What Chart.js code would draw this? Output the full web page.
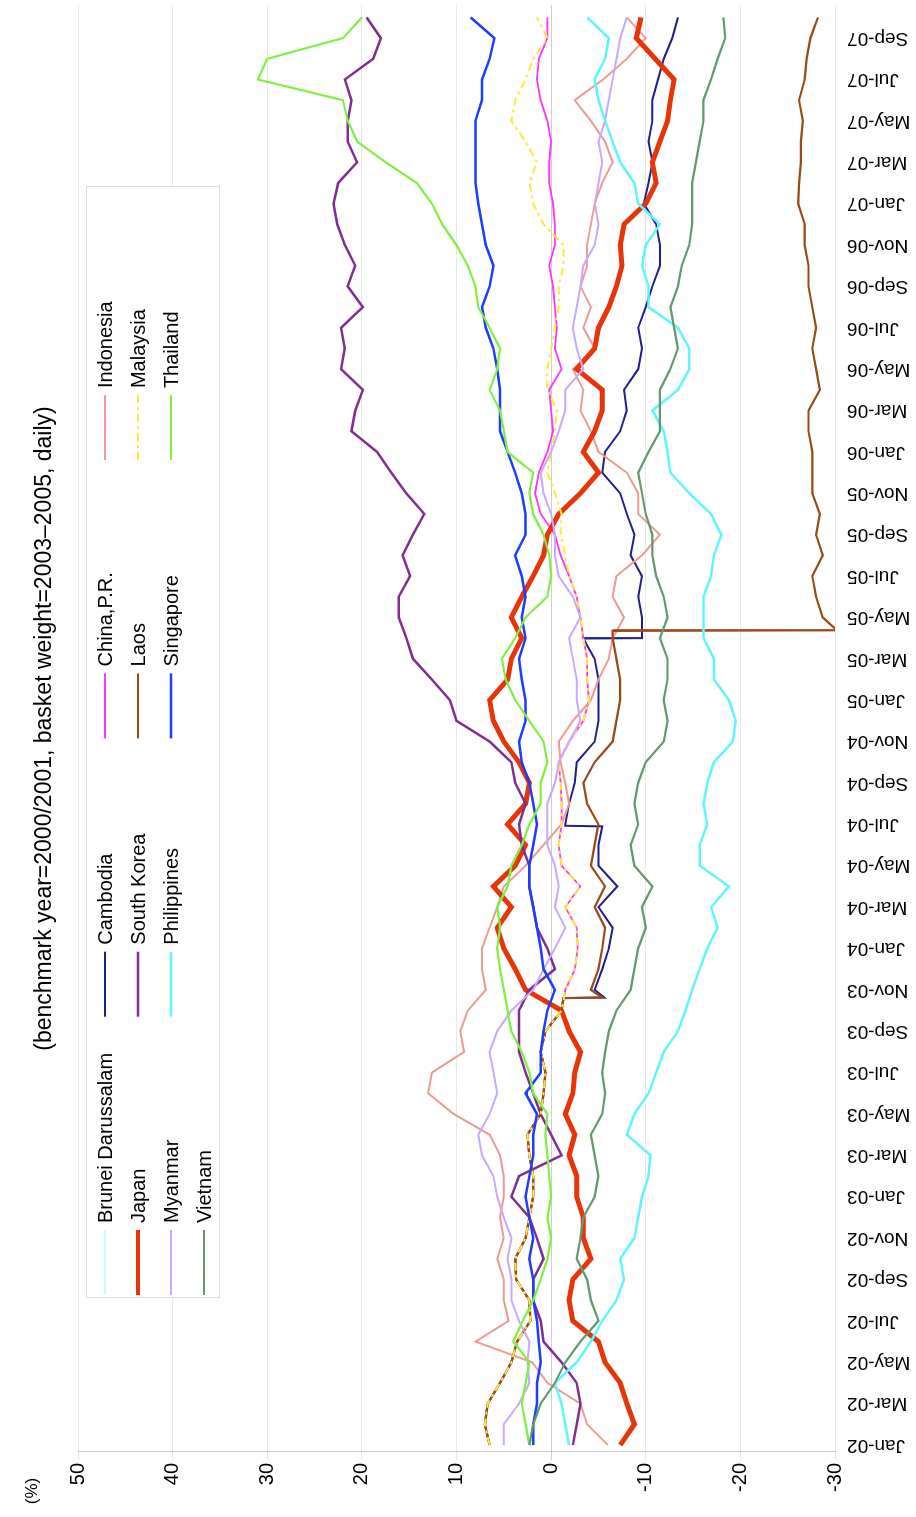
<!DOCTYPE html>
<html>
<head>
<meta charset="utf-8">
<script src="https://cdn.jsdelivr.net/npm/chart.js@4.4.0/dist/chart.umd.min.js"></script>
<style>
  html, body { margin: 0; padding: 0; background: #fff; overflow: hidden; }
  #wrap {
    position: absolute; left: 0; top: 0;
    width: 1517px; height: 916px;
    transform-origin: 0 0;
    transform: translateY(1517px) rotate(-90deg);
  }
  canvas { display: block; }
</style>
</head>
<body>
<div id="wrap"><canvas id="chart" width="1517" height="916"></canvas></div>
<script>
// month index: 0 = Jan-02 ... 69 = Oct-07
const months = Array.from({ length: 70 }, (_, i) => i);
const tickMonths = Array.from({ length: 35 }, (_, i) => i * 2);
const tickLabels = [
  "Jan-02", "Mar-02", "May-02", "Jul-02", "Sep-02", "Nov-02",
  "Jan-03", "Mar-03", "May-03", "Jul-03", "Sep-03", "Nov-03",
  "Jan-04", "Mar-04", "May-04", "Jul-04", "Sep-04", "Nov-04",
  "Jan-05", "Mar-05", "May-05", "Jul-05", "Sep-05", "Nov-05",
  "Jan-06", "Mar-06", "May-06", "Jul-06", "Sep-06", "Nov-06",
  "Jan-07", "Mar-07", "May-07", "Jul-07", "Sep-07"
];

const seriesNames = [
  "Brunei Darussalam", "Cambodia", "China,P.R.", "Indonesia",
  "Japan", "South Korea", "Laos", "Malaysia",
  "Myanmar", "Philippines", "Singapore", "Thailand", "Vietnam"
];

// monthly readings (%)
const bruneiValues = [1.9, 1.9, 1.5, 1.5, 1.1, 1.3, 1.5, 1.9, 1.9, 2.3, 1.9, 2.3, 2.7, 2.3, 1.9, 1.9, 1.5, 2.7, 1.1, 1.1,
  0.8, 0.4, -0.4, 0.8, 1.1, 1.5, 1.9, 2.3, 2.3, 1.9, 1.5, 1.9, 2.3, 3.1, 3.4, 2.7, 2.7, 3.1, 3.4, 2.7,
  3.1, 2.7, 3.1, 3.8, 2.7, 2.7, 3.1, 3.8, 4.6, 5.4, 5.4, 5.4, 5.7, 6.1, 6.9, 7.3, 6.5, 6.1, 6.9, 7.3,
  7.7, 8.0, 8.0, 8.0, 8.0, 7.3, 7.3, 6.5, 6.0, 8.5];
const cambodiaValues = [6.5, 7.0, 6.7, 5.4, 4.2, 3.6, 2.2, 2.3, 3.7, 3.8, 2.7, 2.3, 1.9, 1.9, 2.3, 2.5, 1.1, 0.8, 0.6, 1.1,
  0.6, -1.1, -4.6, -5.4, -6.1, -6.5, -5.0, -7.0, -5.0, -5.0, -1.5, -1.9, -2.5, -2.7, -4.6, -5.0, -5.0, -5.0, -4.6, -9.6,
  -9.6, -9.2, -9.6, -8.4, -8.8, -8.0, -7.3, -5.4, -5.7, -7.3, -8.0, -7.7, -9.2, -9.6, -9.2, -10.0, -10.7, -11.5, -11.5, -11.1,
  -9.8, -10.3, -10.7, -10.3, -10.7, -10.7, -11.3, -11.9, -12.8, -13.4];
const chinaValues = [6.5, 7.0, 6.7, 5.4, 4.2, 3.6, 2.2, 2.3, 3.7, 3.8, 2.7, 2.3, 1.9, 1.9, 2.3, 2.5, 1.1, 0.8, 0.6, 1.1,
  0.6, -1.1, -1.5, -2.5, -2.8, -2.7, -1.5, -3.1, -1.1, -0.8, -1.1, -1.1, -1.0, -0.8, -1.9, -3.4, -4.0, -3.8, -3.8, -3.4,
  -3.1, -2.7, -1.9, -1.0, -0.4, 1.1, 1.7, 1.3, 0.4, -0.2, 0, 0.2, -1.1, -0.4, -0.6, -0.4, -0.2, 0.2, -0.4, -0.4,
  -0.2, 0.2, 0.2, 0, 0.4, 1.1, 1.5, 1.3, 0.4, 0.4];
const indonesiaValues = [-6.0, -3.8, -3.1, 0.4, 2.0, 8.0, 4.5, 5.0, 5.0, 5.7, 5.0, 5.4, 5.0, 5.0, 5.4, 6.5, 10.3, 13.0, 12.6, 9.2,
  9.6, 8.8, 6.9, 7.3, 7.3, 6.5, 5.7, 5.0, 2.7, 0.8, -1.1, -1.9, -1.5, -1.0, -0.8, -2.3, -4.2, -5.0, -6.1, -6.5,
  -7.7, -6.5, -6.9, -9.6, -11.5, -9.2, -9.2, -8.0, -5.0, -4.2, -3.1, -3.4, -2.3, -4.6, -3.4, -4.2, -3.1, -3.8, -3.8, -4.2,
  -4.6, -5.4, -6.5, -5.7, -4.2, -2.5, -5.5, -8.0, -10.0, -8.0];
const japanValues = [-7.3, -8.8, -8.0, -7.3, -5.7, -5.0, -2.3, -1.9, -2.3, -4.2, -3.4, -3.4, -2.7, -2.7, -1.9, -2.5, -1.5, -2.3, -2.5, -3.1,
  -1.9, -1.1, 2.7, 3.8, 5.0, 5.7, 4.2, 6.1, 3.8, 2.7, 4.6, 2.7, 2.3, 3.4, 5.0, 6.1, 6.5, 4.6, 4.2, 3.1,
  4.2, 3.1, 1.9, 0.8, 0.4, -0.8, -3.1, -5.0, -3.4, -4.6, -5.4, -5.4, -2.7, -4.6, -5.0, -6.1, -6.9, -7.5, -7.3, -7.7,
  -10.0, -11.1, -10.7, -11.5, -12.3, -12.6, -13.0, -11.0, -9.0, -9.5];
const koreaValues = [-2.3, -2.7, -3.1, -2.7, -1.1, 0.8, 1.1, 1.9, 1.9, 0.8, 1.5, 2.3, 4.2, 3.4, -1.1, 0, 1.1, 1.9, 2.7, 3.4,
  3.4, 3.4, 2.3, -0.4, 0.4, 1.5, 1.9, 2.3, 2.3, 3.1, 3.4, 2.7, 3.8, 4.2, 6.5, 10.0, 10.7, 12.6, 14.6, 15.3,
  16.1, 16.1, 14.9, 15.7, 14.6, 13.4, 15.3, 16.9, 18.4, 21.1, 20.7, 19.9, 22.2, 21.8, 22.2, 19.9, 21.5, 20.7, 21.8, 22.6,
  23.0, 22.5, 20.5, 21.5, 21.5, 21.1, 21.8, 18.8, 18.0, 19.5];
const laosValues = [6.5, 7.0, 6.7, 5.4, 4.2, 3.6, 2.2, 2.3, 3.7, 3.8, 2.7, 2.3, 1.9, 1.9, 2.3, 2.5, 1.1, 0.8, 0.6, 1.1,
  0.6, -1.1, -4.2, -5.0, -5.4, -5.7, -4.6, -5.7, -4.2, -4.6, -5.0, -3.8, -3.4, -4.6, -6.5, -6.9, -7.3, -7.3, -6.9, -6.5,
  -28.7, -28.0, -27.6, -28.7, -28.0, -28.4, -27.6, -27.6, -27.6, -27.2, -27.2, -28.4, -28.0, -27.6, -28.0, -27.6, -27.2, -27.2, -26.8, -26.8,
  -26.1, -26.2, -26.4, -26.4, -26.6, -26.2, -26.8, -27.0, -27.4, -28.2];
const malaysiaValues = [6.5, 7.0, 6.7, 5.4, 4.2, 3.6, 2.2, 2.3, 3.7, 3.8, 2.7, 2.3, 1.9, 1.9, 2.3, 2.5, 1.1, 0.8, 0.6, 1.1,
  0.6, -1.1, -1.5, -2.5, -2.8, -2.7, -1.5, -3.1, -1.1, -0.8, -1.1, -1.1, -1.0, -0.8, -1.9, -3.4, -4.0, -3.8, -3.8, -3.4,
  -3.1, -2.7, -1.9, -1.5, -1.0, -1.1, -0.4, 0.4, 0, -0.4, -0.6, 0.4, 0.4, 0, -0.4, -0.8, -0.8, -1.3, -1.3, 0.8,
  1.9, 2.3, 1.5, 2.7, 4.2, 3.8, 2.7, 1.9, 0.4, 1.5];
const myanmarValues = [5.0, 5.0, 3.4, 2.3, 2.5, 2.3, 3.4, 4.2, 4.2, 4.6, 4.2, 5.0, 5.7, 6.1, 7.3, 7.7, 6.5, 5.7, 6.1, 6.5,
  5.7, 4.2, 1.9, 0.8, -0.4, -1.5, -0.4, -0.8, -0.4, 0.4, 0.4, 0.4, -0.4, -0.8, -1.9, -3.1, -2.7, -2.7, -2.3, -1.9,
  -3.1, -2.3, -0.8, -0.4, -0.4, 0, 0.8, 1.1, 0, -0.8, -1.5, -1.5, -3.4, -2.7, -2.3, -2.7, -3.1, -3.4, -4.6, -5.0,
  -4.6, -5.0, -5.4, -5.0, -5.7, -6.1, -6.5, -6.9, -7.3, -8.0];
const philippinesValues = [-1.9, -1.5, -1.1, -0.4, -2.7, -4.2, -5.4, -6.9, -7.7, -7.3, -8.8, -9.2, -9.6, -10.3, -10.5, -8.0, -8.8, -10.3, -11.1, -11.9,
  -13.4, -14.2, -14.9, -15.7, -16.5, -17.6, -16.9, -18.8, -15.7, -15.7, -16.5, -16.1, -16.5, -17.2, -19.2, -19.5, -18.8, -17.2, -17.2, -16.1,
  -16.1, -16.1, -16.9, -17.2, -18.0, -16.9, -14.6, -12.6, -12.3, -11.9, -10.7, -13.4, -14.6, -14.6, -13.4, -10.3, -10.3, -9.6, -10.0, -11.5,
  -9.2, -8.8, -7.3, -6.5, -5.7, -5.0, -4.6, -5.7, -6.1, -3.8];
const singaporeValues = [1.9, 1.9, 1.5, 1.5, 1.1, 1.3, 1.5, 1.9, 1.9, 2.3, 1.9, 2.3, 2.7, 2.3, 1.9, 1.9, 1.5, 2.7, 1.1, 1.1,
  0.8, 0.4, -0.4, 0.8, 1.1, 1.5, 1.9, 2.3, 2.3, 1.9, 1.5, 1.9, 2.3, 3.1, 3.4, 2.7, 2.7, 3.1, 3.4, 2.7,
  3.1, 2.7, 3.1, 3.8, 2.7, 2.7, 3.1, 3.8, 4.6, 5.4, 5.4, 5.4, 5.7, 6.1, 6.9, 7.3, 6.5, 6.1, 6.9, 7.3,
  7.7, 8.0, 8.0, 8.0, 8.0, 7.3, 7.3, 6.5, 6.0, 8.5];
const thailandValues = [2.3, 2.7, 3.1, 2.7, 2.3, 4.0, 3.0, 1.9, 1.1, 0.4, 0, 0.4, 0, 0.2, 0.4, 0.6, 0.4, 1.9, 2.3, 3.1,
  4.2, 4.6, 5.0, 5.4, 5.7, 5.4, 5.7, 4.6, 4.2, 3.1, 2.3, 1.1, 1.1, 0.4, 0.8, 2.3, 3.8, 4.8, 5.2, 3.8,
  2.7, 0.4, 0, 0.2, 0.8, 1.9, 2.3, 1.9, 4.6, 5.0, 5.4, 6.5, 5.7, 5.4, 6.5, 7.7, 8.0, 8.8, 10.0, 11.5,
  12.6, 14.2, 17.5, 20.5, 21.5, 22.0, 31.0, 30.0, 22.0, 20.0];
const vietnamValues = [2.3, 1.9, 1.1, -0.4, -1.5, -3.1, -5.0, -4.2, -3.8, -2.7, -3.1, -3.4, -4.6, -5.0, -4.6, -4.2, -5.4, -5.7, -5.4, -5.7,
  -6.1, -6.9, -8.4, -8.8, -9.2, -10.0, -9.6, -10.7, -8.8, -8.4, -9.2, -8.8, -9.2, -10.0, -11.9, -12.3, -11.9, -12.3, -12.3, -11.5,
  -12.3, -11.9, -11.1, -10.7, -10.7, -10.0, -9.6, -9.2, -10.3, -11.5, -11.5, -11.5, -12.6, -13.4, -13.0, -12.6, -13.4, -13.8, -14.6, -14.9,
  -14.9, -14.9, -15.3, -15.7, -16.1, -16.1, -16.9, -17.6, -18.4, -18.2];

// sudden level shifts: [month, value before, value after]
const cambodiaSteps = [[21.6, -1.3, -5.6], [29.9, -5.4, -1.5], [38.98, -3.4, -9.6]];
const laosSteps = [[21.6, -1.3, -5.4], [39.35, -6.5, -30.2]];

const seriesValues = [bruneiValues, cambodiaValues, chinaValues, indonesiaValues, japanValues, koreaValues,
  laosValues, malaysiaValues, myanmarValues, philippinesValues, singaporeValues, thailandValues, vietnamValues];
const seriesSteps = [null, cambodiaSteps, null, null, null, null, laosSteps, null, null, null, null, null, null];

const seriesColors = ["#c8fafa", "#1f1f8f", "#ff33ff", "#ee9b92", "#e63508", "#7f2f8f", "#9a4a17",
  "#ffe83a", "#c9a8ff", "#5ff5ff", "#1f3cff", "#80f040", "#609a6d"];
const seriesWidths = [2, 2, 1.8, 2, 5, 2.5, 2.2, 2, 2, 2.5, 2.5, 2.2, 2.2];
const seriesDashes = [[], [], [], [], [], [], [], [8, 4, 3, 4], [], [], [], [], []];

const FONT = '"Liberation Sans", Arial, Helvetica, sans-serif';
const titleText = "(benchmark year=2000/2001, basket weight=2003\u20132005, daily)";

function points(values, steps) {
  const pts = values.map((v, i) => ({ x: months[i], y: v }));
  (steps || []).forEach(([at, before, after]) => {
    pts.push({ x: at, y: before }, { x: at + 0.03, y: after });
  });
  return pts.sort((a, b) => a.x - b.x);
}

const datasets = seriesNames.map((name, i) => ({
  label: name,
  data: points(seriesValues[i], seriesSteps[i]),
  borderColor: seriesColors[i],
  borderWidth: seriesWidths[i],
  borderDash: seriesDashes[i],
  pointRadius: 0,
  tension: 0,
  fill: false,
  order: seriesNames.length - i
}));

const overlay = {
  id: "overlay",
  afterDraw(chart) {
    const { ctx, chartArea } = chart;
    ctx.save();
    ctx.fillStyle = "#000";
    ctx.textBaseline = "middle";

    // title
    ctx.font = "23px " + FONT;
    ctx.textAlign = "center";
    ctx.fillText(titleText, (chartArea.left + chartArea.right) / 2, 45);

    // unit
    ctx.font = "17px " + FONT;
    ctx.fillText("(%)", 26, 32);

    // legend box
    const bx = 219, by = 86, bw = 1111, bh = 133;
    ctx.fillStyle = "#fff";
    ctx.fillRect(bx, by, bw, bh);
    ctx.strokeStyle = "#dcdcdc";
    ctx.lineWidth = 1;
    ctx.strokeRect(bx + 0.5, by + 0.5, bw, bh);

    ctx.font = "20px " + FONT;
    ctx.textAlign = "left";
    seriesNames.forEach((name, i) => {
      const col = i % 4, row = Math.floor(i / 4);
      const x0 = 222 + col * 278.3;
      const y = 105 + row * 33;
      ctx.beginPath();
      ctx.strokeStyle = seriesColors[i];
      ctx.lineWidth = Math.min(seriesWidths[i], 4);
      ctx.setLineDash(seriesDashes[i]);
      ctx.moveTo(x0, y);
      ctx.lineTo(x0 + 65, y);
      ctx.stroke();
      ctx.setLineDash([]);
      ctx.fillStyle = "#000";
      ctx.fillText(name, x0 + 72, y + 1);
    });
    ctx.restore();
  }
};

new Chart(document.getElementById("chart"), {
  type: "line",
  data: { datasets },
  options: {
    responsive: false,
    animation: false,
    events: [],
    layout: { padding: { top: 78, right: 5, left: 0, bottom: 0 } },
    plugins: {
      legend: { display: false },
      tooltip: { enabled: false },
      title: { display: false }
    },
    scales: {
      x: {
        type: "linear",
        min: -0.338,
        max: 69.6,
        grid: { display: false },
        border: { display: false },
        afterBuildTicks: (scale) => {
          scale.ticks = tickMonths.map((v) => ({ value: v }));
        },
        afterFit: (scale) => { scale.height = 81; },
        ticks: {
          autoSkip: false,
          minRotation: 90,
          maxRotation: 90,
          padding: 4,
          color: "#000",
          font: { family: FONT, size: 19 },
          callback: (value, index) => tickLabels[index]
        }
      },
      y: {
        min: -30,
        max: 50,
        afterFit: (scale) => { scale.width = 65; },
        grid: {
          color: (c) => (c.tick && c.tick.value === 0 ? "#cfcfcf" : "#e8e8e8"),
          tickLength: 8
        },
        border: { color: "#c8c8c8" },
        ticks: {
          stepSize: 10,
          color: "#000",
          font: { family: FONT, size: 20 }
        }
      }
    }
  },
  plugins: [overlay]
});
</script>
</body>
</html>
